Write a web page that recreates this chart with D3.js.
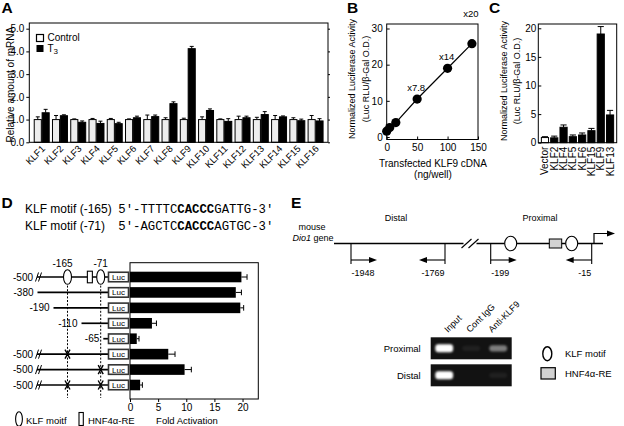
<!DOCTYPE html>
<html>
<head>
<meta charset="utf-8">
<script src="https://cdn.jsdelivr.net/npm/d3@7"></script>
<style>
  body { margin: 0; background: #fff; }
  svg { display: block; }
</style>
</head>
<body>
<svg id="fig" width="624" height="426"></svg>
<script>
// ---------- data, panel A (relative mRNA) ----------
const klfNames = ["KLF1","KLF2","KLF3","KLF4","KLF5","KLF6","KLF7","KLF8","KLF9","KLF10","KLF11","KLF12","KLF13","KLF14","KLF15","KLF16"];
const controlMean = [1.00,1.00,1.00,1.00,1.00,1.00,1.00,1.00,1.00,1.00,1.00,1.00,1.00,1.00,1.00,1.00];
const controlErr  = [0.12,0.18,0.03,0.05,0.05,0.03,0.20,0.08,0.06,0.12,0.03,0.15,0.10,0.18,0.08,0.18];
const t3Mean      = [1.30,1.17,0.88,0.83,0.82,1.08,1.13,1.70,4.12,1.40,0.92,1.08,1.22,1.12,0.95,0.94];
const t3Err       = [0.15,0.04,0.06,0.10,0.06,0.07,0.07,0.08,0.10,0.07,0.12,0.07,0.13,0.04,0.07,0.10];
const aTicks = [0,1,2,3,4,5];

// ---------- data, panel B (dose response) ----------
const doseNg   = [0, 5, 15, 50, 100, 140];
const doseLuc  = [1.6, 2.6, 4.0, 10.5, 19.0, 25.8];
const doseFold = ["", "", "", "x7.8", "x14", "x20"];
const bTicksX = [0, 50, 100, 150];
const bTicksY = [0, 10, 20, 30];

// ---------- data, panel C (KLF family) ----------
const cNames = ["Vector","KLF2","KLF4","KLF5","KLF6","KLF15","KLF9","KLF13"];
const cMean  = [0.9, 0.85, 2.7, 1.05, 1.35, 2.1, 19.0, 4.85];
const cErr   = [0.15, 0.3, 0.4, 0.3, 0.35, 0.4, 1.3, 0.8];
const cTicks = [0, 5, 10, 15, 20];

// ---------- data, panel D (deletion / mutation constructs) ----------
const motifLabels = ["KLF motif (-165)", "KLF motif (-71)"];
const motifLeft   = ["5'-TTTTC", "5'-AGCTC"];
const motifCore   = "CACCC";
const motifRight  = ["GATTG-3'", "AGTGC-3'"];
const constructStart = [-500, -380, -190, -110, -65, -500, -500, -500];
const constructMut   = [[], [], [], [], [], [-165], [-71], [-165, -71]];
const foldMean = [19.8, 18.8, 19.6, 3.9, 1.2, 6.8, 9.7, 1.8];
const foldErr  = [1.0, 1.0, 0.6, 0.8, 0.4, 1.2, 1.2, 0.4];
const dTicks = [0, 5, 10, 15, 20];
const klfSites = [-165, -71];
const hnfSite = -93;

// ---------- data, panel E (ChIP) ----------
const primerPos = [-1948, -1769, -199, -15];
const primerDir = [1, -1, 1, -1];
const lanes = ["Input", "Cont IgG", "Anti-KLF9"];
const proximalSignal = [1.0, 0.06, 0.45];
const distalSignal   = [1.0, 0.0, 0.06];

// ---------- helpers ----------
const FONT = "'Liberation Sans', Arial, Helvetica, sans-serif";
const MONO = "'Liberation Mono', 'Courier New', monospace";
const svg = d3.select("#fig").attr("font-family", FONT);
svg.append("rect").attr("width", 624).attr("height", 426).attr("fill", "#fff");

function styleAxis(g, size) {
    g.attr("font-family", FONT).attr("font-size", size);
    g.select(".domain").remove();
    g.selectAll(".tick line").attr("stroke", "#000");
    g.selectAll(".tick text").attr("fill", "#000");
}
function box(g, l, t, r, b) {
    g.append("rect").attr("x", l).attr("y", t).attr("width", r - l).attr("height", b - t)
        .attr("fill", "none").attr("stroke", "#000").attr("stroke-width", 1);
}
function panelLetter(txt, x, y) {
    svg.append("text").attr("x", x).attr("y", y).attr("font-size", 15.5)
        .attr("font-weight", "bold").text(txt);
}
function rotTitle(g, lines, x0, cy, size) {
    lines.forEach((s, i) => {
        g.append("text").attr("transform", `translate(${x0 + i * 13.5},${cy}) rotate(-90)`)
            .attr("text-anchor", "middle").attr("font-size", size).text(s);
    });
}

// ================= A =================
const A = { l: 29.3, r: 328, t: 23, b: 142.3 };
const gA = svg.append("g");
const xA = d3.scaleBand(klfNames, [A.l, A.r]).paddingInner(0.18).paddingOuter(0.27);
const xAin = d3.scaleBand(["c", "t"], [0, xA.bandwidth()]).paddingInner(0.1);
const yA = d3.scaleLinear([0, 5.25], [A.b, A.t]);

const aData = klfNames.map((k, i) => [
    { k, s: "c", v: controlMean[i], e: controlErr[i] },
    { k, s: "t", v: t3Mean[i], e: t3Err[i] }
]).flat();

gA.selectAll("line.err").data(aData).join("line")
    .attr("x1", d => xA(d.k) + xAin(d.s) + xAin.bandwidth() / 2)
    .attr("x2", d => xA(d.k) + xAin(d.s) + xAin.bandwidth() / 2)
    .attr("y1", d => yA(d.v)).attr("y2", d => yA(d.v + d.e)).attr("stroke", "#000");
gA.selectAll("line.cap").data(aData).join("line")
    .attr("x1", d => xA(d.k) + xAin(d.s) + xAin.bandwidth() / 2 - 2)
    .attr("x2", d => xA(d.k) + xAin(d.s) + xAin.bandwidth() / 2 + 2)
    .attr("y1", d => yA(d.v + d.e)).attr("y2", d => yA(d.v + d.e)).attr("stroke", "#000");
gA.selectAll("rect.bar").data(aData).join("rect")
    .attr("x", d => xA(d.k) + xAin(d.s)).attr("width", xAin.bandwidth())
    .attr("y", d => yA(d.v)).attr("height", d => yA(0) - yA(d.v))
    .attr("fill", d => d.s === "c" ? "#ededed" : "#000").attr("stroke", "#000").attr("stroke-width", 1);

box(gA, A.l, A.t, A.r, A.b);
gA.append("g").attr("transform", `translate(${A.l},0)`)
    .call(d3.axisLeft(yA).tickValues(aTicks).tickSize(3).tickPadding(2)).call(styleAxis, 10);
gA.append("g").attr("transform", `translate(${A.r},0)`)
    .call(d3.axisRight(yA).tickValues(aTicks).tickSize(2).tickFormat("")).call(styleAxis, 10);
gA.selectAll("text.klf").data(klfNames).join("text")
    .attr("transform", d => `translate(${xA(d) + xA.bandwidth() / 2 + 4},${A.b + 7}) rotate(-45)`)
    .attr("text-anchor", "end").attr("font-size", 9.5).text(d => d);
gA.append("text").attr("transform", `translate(14,${(A.t + A.b) / 2 + 2}) rotate(-90)`)
    .attr("text-anchor", "middle").attr("font-size", 10).text("Relative amount of mRNA");
// legend
gA.append("rect").attr("x", 36.5).attr("y", 34.5).attr("width", 7).attr("height", 7)
    .attr("fill", "#fff").attr("stroke", "#000").attr("stroke-width", 1.2);
gA.append("text").attr("x", 47.5).attr("y", 41).attr("font-size", 10).text("Control");
gA.append("rect").attr("x", 36.5).attr("y", 45).attr("width", 7).attr("height", 7).attr("fill", "#000");
const t3 = gA.append("text").attr("x", 47.5).attr("y", 51.5).attr("font-size", 10).text("T");
t3.append("tspan").attr("dy", 2.5).attr("font-size", 8).text("3");
panelLetter("A", 1.5, 12.8);

// ================= B =================
const B = { l: 386.7, r: 478, t: 24, b: 139.5 };
const gB = svg.append("g");
const xB = d3.scaleLinear([0, 150], [B.l, B.r]);
const yB = d3.scaleLinear([0, 30], [137, 28.5]);
const bPts = doseNg.map((n, i) => ({ n, v: doseLuc[i], f: doseFold[i] }));
box(gB, B.l, B.t, B.r, B.b);
gB.append("g").attr("transform", `translate(${B.l},0)`)
    .call(d3.axisLeft(yB).tickValues(bTicksY).tickSize(-3).tickPadding(4)).call(styleAxis, 10);
gB.append("g").attr("transform", `translate(0,${B.b})`)
    .call(d3.axisBottom(xB).tickValues(bTicksX).tickSize(-3).tickPadding(4)).call(styleAxis, 10);
gB.append("path").datum(bPts)
    .attr("d", d3.line().x(d => xB(d.n)).y(d => yB(d.v)))
    .attr("fill", "none").attr("stroke", "#000").attr("stroke-width", 1.2);
gB.selectAll("circle").data(bPts).join("circle")
    .attr("cx", d => xB(d.n)).attr("cy", d => yB(d.v)).attr("r", 4.6).attr("fill", "#000");
// the top label sits above the frame, the others just over their point
gB.selectAll("text.fold").data(bPts.filter(d => d.f)).join("text")
    .attr("x", d => xB(d.n) - 1)
    .attr("y", d => Math.min(yB(d.v) - 8, d.v > 25 ? 17 : 999))
    .attr("text-anchor", "middle").attr("font-size", 9.5).text(d => d.f);
rotTitle(gB, ["Normalized Luciferase Activity", "(Luc RLU/\u03b2-Gal O.D.)"], 355, 79, 9);
gB.append("text").attr("x", 433).attr("y", 167).attr("text-anchor", "middle").attr("font-size", 10)
    .text("Transfected KLF9 cDNA");
gB.append("text").attr("x", 433).attr("y", 178).attr("text-anchor", "middle").attr("font-size", 10)
    .text("(ng/well)");
panelLetter("B", 347, 13);

// ================= C =================
const C = { l: 538.3, r: 616.7, t: 24, b: 142.7 };
const gC = svg.append("g");
const xC = d3.scaleBand(cNames, [C.l, C.r]).paddingInner(0.23).paddingOuter(0.33);
const yC = d3.scaleLinear([0, 20.75], [C.b, C.t]);
const cData = cNames.map((k, i) => ({ k, v: cMean[i], e: cErr[i] }));
gC.selectAll("line.err").data(cData).join("line")
    .attr("x1", d => xC(d.k) + xC.bandwidth() / 2).attr("x2", d => xC(d.k) + xC.bandwidth() / 2)
    .attr("y1", d => yC(d.v)).attr("y2", d => yC(d.v + d.e)).attr("stroke", "#000");
gC.selectAll("line.cap").data(cData).join("line")
    .attr("x1", d => xC(d.k) + 0.5).attr("x2", d => xC(d.k) + xC.bandwidth() - 0.5)
    .attr("y1", d => yC(d.v + d.e)).attr("y2", d => yC(d.v + d.e)).attr("stroke", "#000");
gC.selectAll("rect.bar").data(cData).join("rect")
    .attr("x", d => xC(d.k)).attr("width", xC.bandwidth())
    .attr("y", d => yC(d.v)).attr("height", d => yC(0) - yC(d.v))
    .attr("fill", (d, i) => i === 0 ? "#fff" : "#000").attr("stroke", "#000");
box(gC, C.l, C.t, C.r, C.b);
gC.append("g").attr("transform", `translate(${C.l},0)`)
    .call(d3.axisLeft(yC).tickValues(cTicks).tickSize(-3).tickPadding(2)).call(styleAxis, 10);
gC.selectAll("text.lab").data(cNames).join("text")
    .attr("transform", d => `translate(${xC(d) + xC.bandwidth() / 2 + 3.5},${C.b + 4}) rotate(-90)`)
    .attr("text-anchor", "end").attr("font-size", 10).text(d => d);
rotTitle(gC, ["Normalized Luciferase Activity", "(Luc RLU/\u03b2-Gal O.D.)"], 506.5, 81, 9);
panelLetter("C", 489, 13);

// ================= D =================
const gD = svg.append("g");
motifLabels.forEach((lab, i) => {
    const y = 213 + i * 17;
    gD.append("text").attr("x", 25).attr("y", y).attr("font-size", 12).text(lab);
    const t = gD.append("text").attr("x", 118.3).attr("y", y).attr("font-family", MONO).attr("font-size", 12.3);
    t.append("tspan").text(motifLeft[i]);
    t.append("tspan").attr("font-weight", "bold").text(motifCore);
    t.append("tspan").text(motifRight[i]);
});

const D = { l: 130, r: 258.3, t: 262.7, b: 399 };
const xD = d3.scaleLinear([0, 22.8], [D.l, D.r]);
const rowY = d3.scalePoint(d3.range(constructStart.length), [277, 385]);
// schematic promoter map (not to scale, break after -500)
const siteX = d3.scaleLinear([-500, -380, -190, -165, -110, -71, -65], [37, 37.5, 53.5, 67.5, 81.5, 100.7, 103.3]);
const lucX = 108.5, lucW = 20, lucH = 9.5;

// dashed guides through KLF sites
gD.selectAll("line.guide").data(klfSites).join("line")
    .attr("x1", d => siteX(d)).attr("x2", d => siteX(d))
    .attr("y1", rowY(0) + 5).attr("y2", D.b - 1)
    .attr("stroke", "#000").attr("stroke-dasharray", "2,1.6").attr("stroke-width", 1);

const dRows = constructStart.map((s, i) => ({ i, s, mut: constructMut[i], v: foldMean[i], e: foldErr[i] }));
dRows.forEach(r => {
    const y = rowY(r.i);
    gD.append("line").attr("x1", siteX(r.s)).attr("x2", lucX).attr("y1", y).attr("y2", y)
        .attr("stroke", "#000").attr("stroke-width", 1.7);
    gD.append("text").attr("x", siteX(r.s) - 4).attr("y", y + 3.5).attr("text-anchor", "end")
        .attr("font-size", 10).text(r.s);
    if (r.s === -500) {
        [0, 3].forEach(dx => {
            gD.append("line").attr("x1", siteX(r.s) - 1.5 + dx).attr("x2", siteX(r.s) + 1.5 + dx)
                .attr("y1", y + 4.5).attr("y2", y - 4.5).attr("stroke", "#000").attr("stroke-width", 1);
        });
    }
    r.mut.forEach(m => {
        const x = siteX(m);
        gD.append("path").attr("d", `M${x - 2.5},${y - 4.5}L${x + 2.5},${y + 4.5}M${x + 2.5},${y - 4.5}L${x - 2.5},${y + 4.5}`)
            .attr("stroke", "#000").attr("stroke-width", 1.4).attr("fill", "none");
    });
    gD.append("rect").attr("x", lucX).attr("y", y - lucH / 2).attr("width", lucW).attr("height", lucH)
        .attr("fill", "#fff").attr("stroke", "#333").attr("stroke-width", 1.6);
    gD.append("text").attr("x", lucX + lucW / 2).attr("y", y + 3).attr("text-anchor", "middle")
        .attr("font-size", 8).text("Luc");
});
// row 1 full promoter elements
gD.append("rect").attr("x", siteX(hnfSite) - 2.5).attr("y", rowY(0) - 5.8).attr("width", 5).attr("height", 11.6)
    .attr("fill", "#fff").attr("stroke", "#000").attr("stroke-width", 1.1);
gD.selectAll("ellipse.site").data(klfSites).join("ellipse")
    .attr("cx", d => siteX(d)).attr("cy", rowY(0)).attr("rx", 4).attr("ry", 7.3)
    .attr("fill", "#fff").attr("stroke", "#000").attr("stroke-width", 1.1);
gD.selectAll("text.site").data(klfSites).join("text")
    .attr("x", d => siteX(d) - (d === -165 ? 5 : 0)).attr("y", 266.5)
    .attr("text-anchor", "middle").attr("font-size", 10).text(d => d);

// bars
gD.selectAll("line.err").data(dRows).join("line")
    .attr("x1", d => xD(d.v)).attr("x2", d => xD(d.v + d.e))
    .attr("y1", d => rowY(d.i)).attr("y2", d => rowY(d.i)).attr("stroke", "#000");
gD.selectAll("line.cap").data(dRows).join("line")
    .attr("x1", d => xD(d.v + d.e)).attr("x2", d => xD(d.v + d.e))
    .attr("y1", d => rowY(d.i) - 2.8).attr("y2", d => rowY(d.i) + 2.8).attr("stroke", "#000");
gD.selectAll("rect.bar").data(dRows).join("rect")
    .attr("x", xD(0)).attr("width", d => xD(d.v) - xD(0))
    .attr("y", d => rowY(d.i) - 5.3).attr("height", 10.6).attr("fill", "#000");
box(gD, D.l, D.t, D.r, D.b);
gD.append("g").attr("transform", `translate(0,${D.b})`)
    .call(d3.axisBottom(xD).tickValues(dTicks).tickSize(3).tickPadding(1.5)).call(styleAxis, 10);
gD.append("text").attr("x", 187).attr("y", 423.5).attr("text-anchor", "middle").attr("font-size", 9.5)
    .text("Fold Activation");
// legend
gD.append("ellipse").attr("cx", 19).attr("cy", 419).attr("rx", 3.4).attr("ry", 7.3)
    .attr("fill", "#fff").attr("stroke", "#000").attr("stroke-width", 1.1);
gD.append("text").attr("x", 26).attr("y", 423.5).attr("font-size", 9.5).text("KLF moitf");
gD.append("rect").attr("x", 79).attr("y", 412.5).attr("width", 4.3).attr("height", 13)
    .attr("fill", "#fff").attr("stroke", "#000").attr("stroke-width", 1.1);
gD.append("text").attr("x", 88).attr("y", 423.5).attr("font-size", 9.5).text("HNF4\u03b1-RE");
panelLetter("D", 1.5, 207.5);

// ================= E =================
const gE = svg.append("g");
const geneY = 243.5;
const distalX = d3.scaleLinear([-1948, -1769], [351, 445]);
const proxX = d3.scaleLinear([-199, -165, -93, -71, -15, 0], [490.7, 510.7, 555.5, 571.7, 591.7, 594]);
const mapX = p => p < -1000 ? distalX(p) : proxX(p);

gE.append("text").attr("x", 312).attr("y", geneY - 13.5).attr("text-anchor", "middle").attr("font-size", 9)
    .text("mouse");
const dio = gE.append("text").attr("x", 313).attr("y", geneY - 2.5).attr("text-anchor", "middle").attr("font-size", 9);
dio.append("tspan").attr("font-style", "italic").text("Dio1");
dio.append("tspan").text(" gene");

const breakL = 463.5, breakR = 476.5;
gE.append("line").attr("x1", 334).attr("x2", breakL).attr("y1", geneY).attr("y2", geneY).attr("stroke", "#000").attr("stroke-width", 1.3);
gE.append("line").attr("x1", breakR).attr("x2", 603).attr("y1", geneY).attr("y2", geneY).attr("stroke", "#000").attr("stroke-width", 1.3);
[breakL - 2, breakR - 8].forEach(x0 => {
    gE.append("line").attr("x1", x0).attr("x2", x0 + 10).attr("y1", geneY + 4.5).attr("y2", geneY - 4.5)
        .attr("stroke", "#000").attr("stroke-width", 1.1);
});
gE.append("text").attr("x", 396).attr("y", 221).attr("text-anchor", "middle").attr("font-size", 9).text("Distal");
gE.append("text").attr("x", 540).attr("y", 221).attr("text-anchor", "middle").attr("font-size", 9).text("Proximal");

// primers
const arrowHead = (x, y, dir) => `M${x},${y}L${x - dir * 8},${y - 3}L${x - dir * 8},${y + 3}Z`;
primerPos.forEach((p, i) => {
    const x = mapX(p), dir = primerDir[i], ay = 260;
    gE.append("line").attr("x1", x).attr("x2", x).attr("y1", geneY).attr("y2", 264).attr("stroke", "#000").attr("stroke-width", 1.1);
    gE.append("line").attr("x1", x).attr("x2", x + dir * 20).attr("y1", ay).attr("y2", ay).attr("stroke", "#000").attr("stroke-width", 1.1);
    gE.append("path").attr("d", arrowHead(x + dir * 26, ay, dir)).attr("fill", "#000");
    gE.append("text").attr("x", x + dir * 0.5).attr("y", 275.5).attr("text-anchor", dir > 0 ? "start" : "end")
        .attr("font-size", 9).text(p);
});
// promoter elements
gE.append("rect").attr("x", proxX(hnfSite) - 6.2).attr("y", geneY - 4.5).attr("width", 12.4).attr("height", 9)
    .attr("fill", "#d2d2d2").attr("stroke", "#000").attr("stroke-width", 1);
gE.selectAll("ellipse.site").data(klfSites).join("ellipse")
    .attr("cx", d => proxX(d)).attr("cy", geneY).attr("rx", 6).attr("ry", 7.3)
    .attr("fill", "#fff").attr("stroke", "#000").attr("stroke-width", 1.1);
// transcription start
gE.append("path").attr("d", `M${proxX(0)},${geneY}V233.5H607`).attr("fill", "none").attr("stroke", "#000").attr("stroke-width", 1.2);
gE.append("path").attr("d", arrowHead(615, 233.5, 1)).attr("fill", "#000");

// gel
const gel = { l: 430.7, r: 511.7 };
const laneX = d3.scaleBand(lanes, [gel.l, gel.r]);
const laneLabX = d3.scalePoint(lanes, [448, 492]);
const defs = svg.append("defs");
defs.append("filter").attr("id", "blur").attr("x", "-50%").attr("y", "-100%").attr("width", "200%").attr("height", "300%")
    .append("feGaussianBlur").attr("stdDeviation", 0.9);
const gelRows = [
    { name: "Proximal", top: 337.3, sig: proximalSignal },
    { name: "Distal", top: 364.3, sig: distalSignal }
];
gelRows.forEach(row => {
    gE.append("rect").attr("x", gel.l).attr("y", row.top).attr("width", gel.r - gel.l).attr("height", 22)
        .attr("fill", "#121212");
    gE.append("text").attr("x", 420.7).attr("y", row.top + 15).attr("text-anchor", "end").attr("font-size", 9.5)
        .text(row.name);
    gE.selectAll(null).data(lanes).join("rect")
        .attr("x", d => laneX(d) + laneX.bandwidth() * 0.17).attr("width", laneX.bandwidth() * 0.66)
        .attr("y", (d, i) => row.top + 11 - 2.5 - row.sig[i] * 1.5).attr("height", (d, i) => 5 + row.sig[i] * 3)
        .attr("rx", 3).attr("fill", "#fff").attr("opacity", (d, i) => row.sig[i])
        .attr("filter", "url(#blur)");
});
gE.selectAll("text.lane").data(lanes).join("text")
    .attr("transform", d => `translate(${laneLabX(d)},333) rotate(-45)`)
    .attr("font-size", 9).text(d => d);
// legend
gE.append("ellipse").attr("cx", 547.3).attr("cy", 353.7).attr("rx", 4.5).attr("ry", 7)
    .attr("fill", "#fff").attr("stroke", "#000").attr("stroke-width", 1.4);
gE.append("text").attr("x", 565).attr("y", 357).attr("font-size", 9.5).text("KLF motif");
gE.append("rect").attr("x", 541).attr("y", 367.7).attr("width", 14.3).attr("height", 11.3)
    .attr("fill", "#d2d2d2").attr("stroke", "#000").attr("stroke-width", 1.2);
gE.append("text").attr("x", 565).attr("y", 376.5).attr("font-size", 9.5).text("HNF4\u03b1-RE");
panelLetter("E", 291, 207.5);
</script>
</body>
</html>
